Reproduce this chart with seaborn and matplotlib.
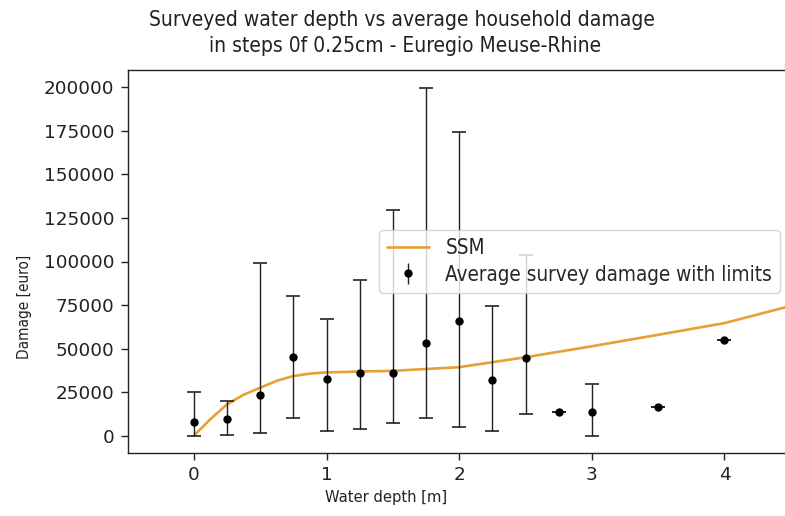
import matplotlib
matplotlib.use("Agg")
import matplotlib.pyplot as plt
from matplotlib.lines import Line2D
import seaborn as sns
import numpy as np
import pandas as pd

# Survey data (water depth in m, average damage, lower/upper limits)
survey_depth = [0, 0.25, 0.5, 0.75, 1.0, 1.25, 1.5, 1.75, 2.0, 2.25, 2.5, 2.75, 3.0, 3.5, 4.0]
survey_mean = [8000, 9300, 23200, 45400, 32700, 36100, 36100, 53200, 66100, 31700, 44600, 13300, 13300, 16500, 55100]
survey_low = [0, 600, 1700, 10300, 2800, 3800, 7200, 10300, 4900, 2600, 12500, 13300, -500, 16500, 55100]
survey_high = [25000, 19800, 99100, 80000, 67000, 89600, 129500, 199400, 174400, 74500, 103500, 13300, 29400, 16500, 55100]

# SSM model curve
ssm_depth = [0, 0.125, 0.25, 0.375, 0.5, 0.625, 0.75, 0.875, 1.0, 1.25, 1.5, 2.0, 2.5, 3.0, 3.5, 4.0, 4.5, 5.0]
ssm_damage = [0, 9500, 18000, 23500, 27500, 31500, 34200, 35600, 36300, 36800, 37200, 39300, 45000, 51300, 57900, 64600, 74500, 84500]

sns.set_style("white")
plt.rcParams['font.family'] = ['DejaVu Sans']
plt.rcParams['xtick.direction'] = 'out'
plt.rcParams['ytick.direction'] = 'out'

fig = plt.figure(figsize=(7.85, 5.16), dpi=100)
ax = fig.add_axes([127.7 / 785, 63 / 516, 663 / 785, 383 / 516])

ssm_df = pd.DataFrame({"depth": ssm_depth, "damage": ssm_damage})
sns.lineplot(data=ssm_df, x="depth", y="damage", ax=ax, color="#e6a035", linewidth=1.9, label="SSM")

mean = np.array(survey_mean)
yerr = np.array([mean - np.array(survey_low), np.array(survey_high) - mean])
ax.errorbar(survey_depth, survey_mean, yerr=yerr, fmt='o', color='black', markersize=5,
            ecolor='#222222', elinewidth=1.0, capsize=4.7, capthick=1.2,
            label="Average survey damage with limits")

ax.set_xlim(-0.5, 4.5)
ax.set_ylim(-10000, 210000)
ax.set_xticks([0, 1, 2, 3, 4])
ax.set_yticks(np.arange(0, 200001, 25000))
ax.set_xlabel("Water depth [m]", fontsize=11.8, fontstretch='condensed', color='#222222')
ax.set_ylabel("Damage [euro]", fontsize=11.0, fontstretch='condensed', color='#222222', labelpad=9)
ax.xaxis.label.set_x((386 - 127.7) / 663)
ax.yaxis.label.set_y((453 - 307) / 383)
ax.set_title("Surveyed water depth vs average household damage\n in steps 0f 0.25cm - Euregio Meuse-Rhine",
             fontsize=15.0, fontstretch='condensed', x=(402 - 127.7) / 663, pad=13,
             linespacing=1.36, color='#222222')
ax.tick_params(axis='both', labelsize=13.2, length=5, width=1.0, pad=4.5, colors='#222222', left=True, bottom=True)
for s in ax.spines.values():
    s.set_visible(True)
    s.set_color('#222222')
    s.set_linewidth(1.0)

leg = ax.legend(loc='center right', prop={'size': 14.9, 'stretch': 'condensed'},
                framealpha=0.8, labelspacing=0.3)
for art in leg.findobj(Line2D):
    if art.get_marker() == '_':
        art.set_visible(False)

fig.savefig("out.png", dpi=100)
